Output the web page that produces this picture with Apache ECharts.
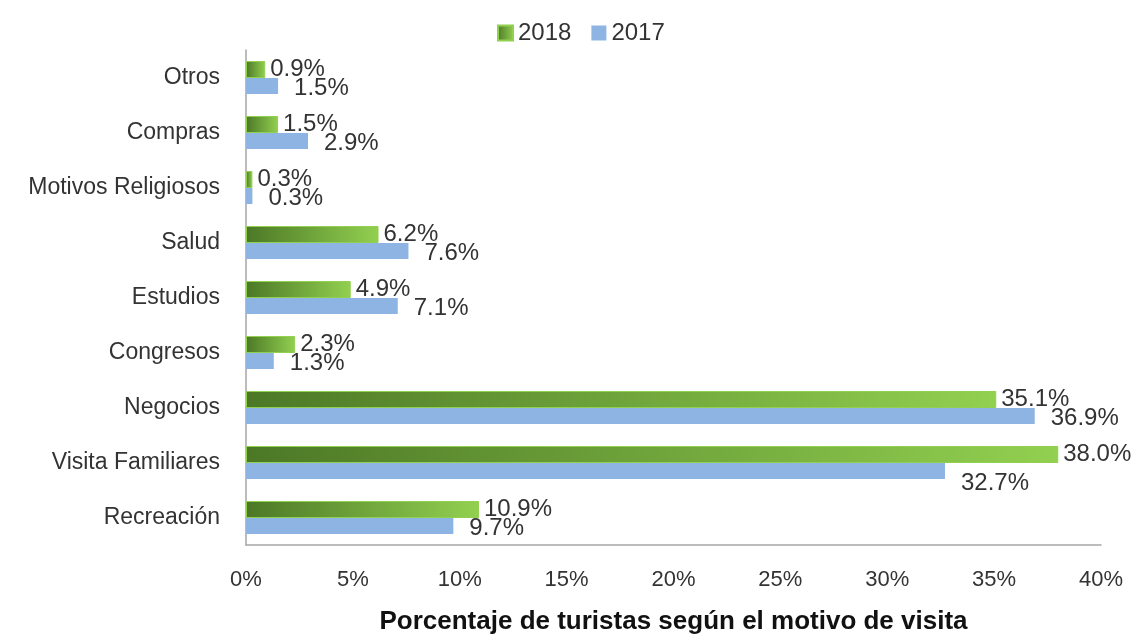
<!DOCTYPE html>
<html lang="es">
<head>
    <meta charset="utf-8">
    <title>Motivo de visita</title>
    <script src="https://cdn.jsdelivr.net/npm/echarts@6.0.0/dist/echarts.min.js"></script>
</head>
<body style="margin:0">
    <div id="chart" style="width:1135px; height:636px;"></div>

<script type="text/javascript">
// datos (de abajo hacia arriba)
var motivos = ['Recreación', 'Visita Familiares', 'Negocios', 'Congresos', 'Estudios',
               'Salud', 'Motivos Religiosos', 'Compras', 'Otros'];
var v2018 = [10.9, 38.0, 35.1, 2.3, 4.9, 6.2, 0.3, 1.5, 0.9];
var v2017 = [9.7, 32.7, 36.9, 1.3, 7.1, 7.6, 0.3, 2.9, 1.5];
var ejeX = { min: 0, max: 40, paso: 5 };

var fuente = 'Liberation Sans';
var verde = new echarts.graphic.LinearGradient(0, 0, 1, 0, [
    { offset: 0, color: '#4C7826' },
    { offset: 1, color: '#92D050' }
]);

var myChart = echarts.init(document.getElementById('chart'));

myChart.setOption({
    animation: false,
    textStyle: { fontFamily: fuente, color: '#333' },
    legend: {
        data: ['2018', '2017'],
        left: 492,
        top: 16,
        icon: 'rect',
        itemWidth: 15,
        itemHeight: 15,
        itemGap: 20,
        textStyle: { fontSize: 24, color: '#333' }
    },
    grid: { left: 246, right: 34, top: 50, bottom: 91, outerBoundsMode: 'none' },
    xAxis: {
        type: 'value',
        min: ejeX.min,
        max: ejeX.max,
        interval: ejeX.paso,
        splitLine: { show: false },
        axisTick: { show: false },
        axisLine: { show: true, lineStyle: { color: '#A6A6A6', width: 1.5 } },
        axisLabel: { formatter: '{value}%', fontSize: 22, color: '#333', margin: 24 },
        name: 'Porcentaje de turistas según el motivo de visita',
        nameLocation: 'middle',
        nameGap: 64,
        nameTextStyle: { fontSize: 26, fontWeight: 'bold', color: '#111' }
    },
    yAxis: {
        type: 'category',
        data: motivos,
        axisTick: { show: false },
        axisLine: { show: true, lineStyle: { color: '#A6A6A6', width: 1.5 } },
        axisLabel: { fontSize: 23, color: '#333', margin: 26 }
    },
    series: [
        {
            name: '2018',
            type: 'bar',
            barWidth: 17,
            barGap: '0%',
            data: v2018,
            itemStyle: { color: verde, borderColor: '#92D050', borderWidth: 1 },
            label: {
                show: true,
                position: 'right',
                distance: 5,
                fontSize: 24,
                color: '#333',
                formatter: function (p) { return p.value.toFixed(1) + '%'; }
            }
        },
        {
            name: '2017',
            type: 'bar',
            barWidth: 16,
            data: v2017.map(function (v, i) {
                // la etiqueta de Visita Familiares 2017 va más abajo
                if (motivos[i] === 'Visita Familiares') {
                    return { value: v, label: { offset: [0, 12] } };
                }
                return v;
            }),
            itemStyle: { color: '#8DB4E2' },
            label: {
                show: true,
                position: 'right',
                distance: 16,
                offset: [0, 2],
                fontSize: 24,
                color: '#333',
                formatter: function (p) { return p.value.toFixed(1) + '%'; }
            }
        }
    ]
});
</script>
</body>
</html>
